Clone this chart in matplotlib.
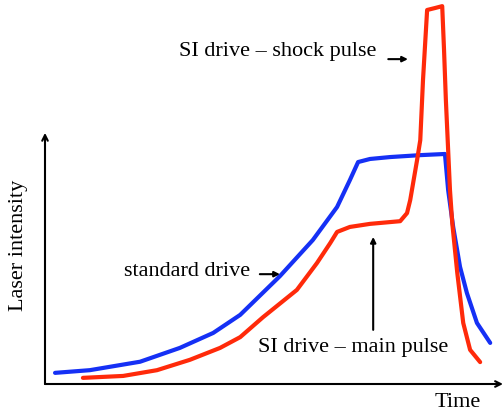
import numpy as np
import matplotlib.pyplot as plt

# time / intensity in arbitrary units
blue_t = [0.22, 0.98, 2.08, 2.95, 3.68, 4.27, 5.14, 5.86, 6.39, 6.67,
          6.85, 7.11, 7.55, 8.21, 8.75, 8.82, 8.93, 9.08, 9.23, 9.45, 9.74]
blue_i = [0.29, 0.36, 0.58, 0.94, 1.33, 1.80, 2.81, 3.75, 4.61, 5.31,
          5.78, 5.86, 5.91, 5.96, 5.99, 5.05, 4.09, 3.05, 2.37, 1.59, 1.07]

red_t = [0.83, 1.71, 2.45, 3.17, 3.83, 4.27, 4.77, 5.51, 5.95, 6.24,
         6.39, 6.67, 7.11, 7.77, 7.92, 7.99, 8.14, 8.21, 8.27, 8.36,
         8.53, 8.69, 8.73, 8.77, 8.82, 8.86, 8.91, 9.02, 9.15, 9.30, 9.52]
red_i = [0.16, 0.21, 0.36, 0.63, 0.94, 1.22, 1.74, 2.45, 3.15, 3.67,
         3.96, 4.09, 4.17, 4.24, 4.45, 4.79, 5.83, 6.35, 7.92, 9.74,
         9.79, 9.84, 8.70, 7.40, 6.09, 5.05, 4.19, 2.89, 1.59, 0.89, 0.57]

plt.rcParams['font.family'] = ['Liberation Serif', 'DejaVu Serif']

fig = plt.figure(figsize=(5.04, 4.15), dpi=100)
ax = fig.add_axes([45/504, 31/415, 458/504, 384/415])
ax.set_xlim(0, 10.02)
ax.set_ylim(0, 10)
ax.axis('off')

ax.plot(blue_t, blue_i, color='#1530f5', lw=3, solid_joinstyle='round', solid_capstyle='round')
ax.plot(red_t, red_i, color='#ff2a0a', lw=3, solid_joinstyle='round', solid_capstyle='round')

# axes arrows
ax.annotate('', xy=(0, 6.54), xytext=(0, 0), annotation_clip=False,
            arrowprops=dict(arrowstyle='->', lw=1.5, color='black', mutation_scale=10, shrinkA=0, shrinkB=0))
ax.annotate('', xy=(10.02, 0), xytext=(0, 0), annotation_clip=False,
            arrowprops=dict(arrowstyle='->', lw=1.5, color='black', mutation_scale=10, shrinkA=0, shrinkB=0))

fs = 16
ax.text(7.26, 8.65, 'SI drive \u2013 shock pulse', ha='right', va='center', fontsize=fs)
ax.annotate('', xy=(7.94, 8.46), xytext=(7.51, 8.46),
            arrowprops=dict(arrowstyle='-|>', lw=1.5, color='black', mutation_scale=8, shrinkA=0, shrinkB=0))
ax.text(4.49, 2.94, 'standard drive', ha='right', va='center', fontsize=fs)
ax.annotate('', xy=(5.14, 2.86), xytext=(4.70, 2.86),
            arrowprops=dict(arrowstyle='-|>', lw=1.5, color='black', mutation_scale=8, shrinkA=0, shrinkB=0))
ax.text(8.82, 0.96, 'SI drive \u2013 main pulse', ha='right', va='center', fontsize=fs)
ax.annotate('', xy=(7.18, 3.83), xytext=(7.18, 1.41),
            arrowprops=dict(arrowstyle='-|>', lw=1.5, color='black', mutation_scale=8, shrinkA=0, shrinkB=0))
ax.text(9.02, -0.47, 'Time', ha='center', va='center', fontsize=fs)
ax.text(-0.59, 3.62, 'Laser intensity', ha='center', va='center', rotation=90, fontsize=fs)

fig.savefig('out.png', dpi=100)
